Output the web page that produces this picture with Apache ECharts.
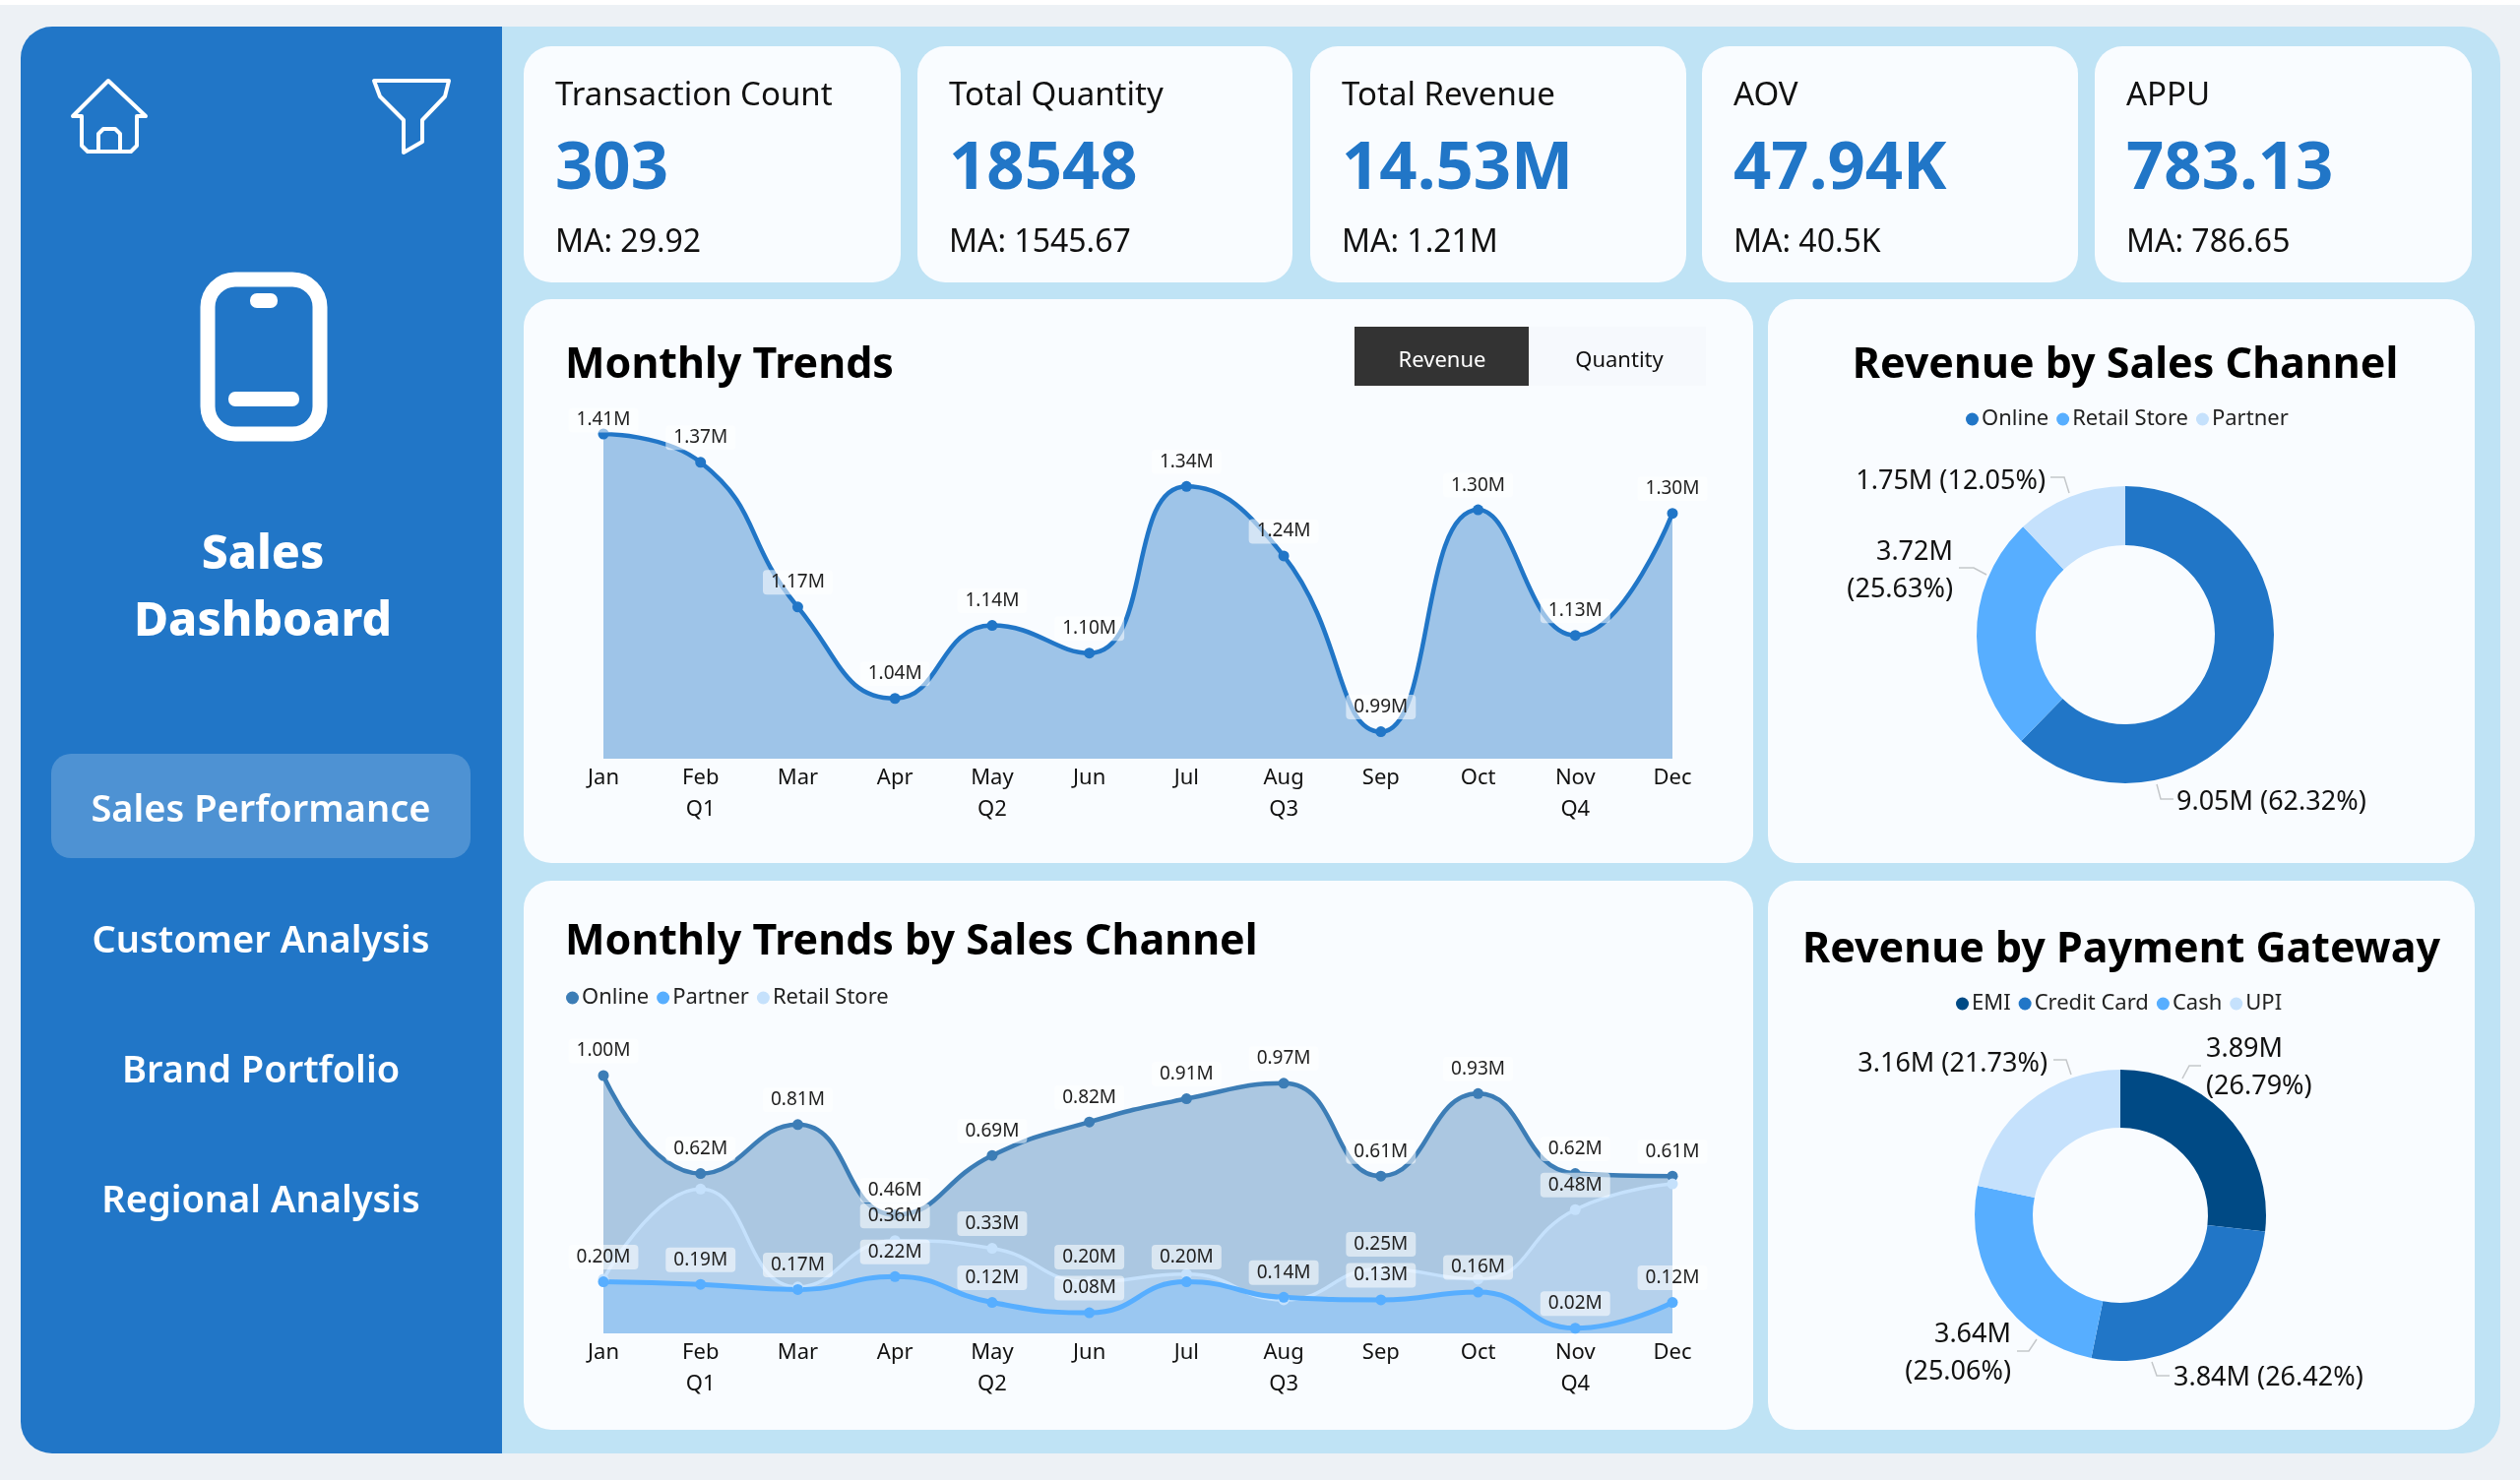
<!DOCTYPE html>
<html>
<head>
<meta charset="utf-8">
<title>Sales Dashboard</title>
<script src="https://cdn.jsdelivr.net/npm/echarts@6/dist/echarts.min.js"></script>
<style>
    html, body { margin: 0; padding: 0; background: #fff; }
    #dashboard { width: 2560px; height: 1504px; }
</style>
</head>
<body>
<div id="dashboard"></div>
<script>
const months = ['Jan', 'Feb', 'Mar', 'Apr', 'May', 'Jun', 'Jul', 'Aug', 'Sep', 'Oct', 'Nov', 'Dec'];
const quarters = ['', 'Q1', '', '', 'Q2', '', '', 'Q3', '', '', 'Q4', ''];

const monthlyRevenue = [1.41, 1.37, 1.166, 1.037, 1.14, 1.101, 1.336, 1.238, 0.99, 1.303, 1.126, 1.298];
const onlineRevenue = [1.00, 0.62, 0.81, 0.46, 0.69, 0.82, 0.91, 0.97, 0.61, 0.93, 0.62, 0.61];
const partnerRevenue = [0.20, 0.19, 0.17, 0.22, 0.12, 0.08, 0.20, 0.14, 0.13, 0.16, 0.02, 0.12];
const retailRevenue = [0.21, 0.56, 0.18, 0.36, 0.33, 0.20, 0.23, 0.13, 0.25, 0.21, 0.48, 0.58];
const retailLabelMonths = ['Apr', 'May', 'Jun', 'Sep', 'Nov'];

const channelNames = ['Online', 'Retail Store', 'Partner'];
const channelValues = [9.05, 3.72, 1.75];
const channelShares = [62.32, 25.63, 12.05];

const gatewayNames = ['EMI', 'Credit Card', 'Cash', 'UPI'];
const gatewayValues = [3.89, 3.84, 3.64, 3.16];
const gatewayShares = [26.79, 26.42, 25.06, 21.73];

const kpiNames = ['Transaction Count', 'Total Quantity', 'Total Revenue', 'AOV', 'APPU'];
const kpiValues = ['303', '18548', '14.53M', '47.94K', '783.13'];
const kpiAverages = ['MA: 29.92', 'MA: 1545.67', 'MA: 1.21M', 'MA: 40.5K', 'MA: 786.65'];

const navItems = ['Sales Performance', 'Customer Analysis', 'Brand Portfolio', 'Regional Analysis'];

const FONT = '"Noto Sans", "Open Sans", sans-serif';
const BLUE = '#2176C7';
const MID_BLUE = '#57AEFF';
const PALE_BLUE = '#C5E1FC';
const DARK_BLUE = '#004A85';
const ONLINE_LINE = '#3C7DB6';
const CARD = '#F9FCFF';

// card and column positions, measured on the 2560 x 1504 page
const kpiCards = [[532, 383], [932, 381], [1331, 382], [1729, 382], [2128, 383]];
const chartCards = [[532, 304, 1249, 573], [1796, 304, 718, 573], [532, 895, 1249, 558], [1796, 895, 718, 558]];
const navY = [824, 957, 1089, 1221];

// where each pie label sits, the library would put them on the slice middle otherwise
const channelSpots = [
    { x: 2211, y: 815, align: 'left', line: [[2191, 797], [2195, 812], [2208, 812]] },
    { x: 1984, y: 580, align: 'right', wrap: true, line: [[2018, 584], [2005, 577], [1990, 577]] },
    { x: 2078, y: 489, align: 'right', line: [[2102, 501], [2097, 485], [2083, 485]] },
];
const gatewaySpots = [
    { x: 2241, y: 1085, align: 'left', wrap: true, line: [[2217, 1096], [2224, 1083], [2236, 1083]] },
    { x: 2208, y: 1400, align: 'left', line: [[2186, 1384], [2191, 1398], [2204, 1398]] },
    { x: 2043, y: 1375, align: 'right', wrap: true, line: [[2069, 1361], [2061, 1373], [2049, 1373]] },
    { x: 2080, y: 1081, align: 'right', line: [[2104, 1092], [2099, 1077], [2086, 1077]] },
];

const chart = echarts.init(document.getElementById('dashboard'));

function text(str, x, y, size, color, weight, align) {
    return {
        type: 'text',
        z: 5,
        style: {
            text: str, x: x, y: y, fill: color,
            font: (weight || 400) + ' ' + size + 'px ' + FONT,
            textAlign: align || 'left', textVerticalAlign: 'middle',
        },
    };
}

function box(x, y, w, h, r, fill) {
    return { type: 'rect', z: 1, shape: { x: x, y: y, width: w, height: h, r: r }, style: { fill: fill } };
}

function stroke(type, points) {
    return {
        type: type, z: 5, shape: { points: points },
        style: { fill: 'none', stroke: '#fff', lineWidth: 4, lineJoin: 'round', lineCap: 'round' },
    };
}

const graphics = [
    box(0, 5, 2560, 1499, 0, '#EDF1F5'),
    box(480, 27, 2060, 1450, [0, 38, 38, 0], '#BFE3F5'),
    box(21, 27, 489, 1450, [32, 0, 0, 32], BLUE),
];

kpiCards.forEach((c, i) => {
    graphics.push(box(c[0], 47, c[1], 240, 28, CARD));
    graphics.push(text(kpiNames[i], c[0] + 32, 98, 33, '#111', 400));
    graphics.push(text(kpiValues[i], c[0] + 32, 173, 67, BLUE, 700));
    graphics.push(text(kpiAverages[i], c[0] + 32, 247, 32, '#111', 400));
});
chartCards.forEach(c => graphics.push(box(c[0], c[1], c[2], c[3], 28, CARD)));

// toggle above the first chart
graphics.push(box(1553, 332, 180, 60, 0, '#F6F9FD'));
graphics.push(box(1376, 332, 177, 60, 0, '#333333'));
graphics.push(text('Revenue', 1465, 367, 22, '#fff', 400, 'center'));
graphics.push(text('Quantity', 1645, 367, 22, '#111', 400, 'center'));

// sidebar
graphics.push(stroke('polyline', [[74, 118], [110, 82], [148, 118], [139, 118], [139, 148], [133, 154], [89, 154], [83, 148], [83, 118], [74, 118]]));
graphics.push(stroke('polyline', [[100, 154], [100, 136], [105, 131], [117, 131], [122, 136], [122, 154]]));
graphics.push(stroke('polygon', [[380, 82], [456, 82], [452, 98], [429, 122], [429, 144], [410, 155], [410, 122], [386, 98]]));
graphics.push({
    type: 'rect', z: 5, shape: { x: 211, y: 284, width: 114, height: 157, r: 28 },
    style: { fill: 'none', stroke: '#fff', lineWidth: 15 },
});
graphics.push({ type: 'rect', z: 5, shape: { x: 254, y: 298, width: 28, height: 15, r: 7 }, style: { fill: '#fff' } });
graphics.push({ type: 'rect', z: 5, shape: { x: 232, y: 398, width: 72, height: 15, r: 7 }, style: { fill: '#fff' } });
graphics.push(text('Sales', 267, 564, 48, '#fff', 800, 'center'));
graphics.push(text('Dashboard', 267, 632, 48, '#fff', 800, 'center'));
graphics.push(box(52, 766, 426, 106, 20, '#4E92D3'));
navItems.forEach((name, i) => graphics.push(text(name, 265, navY[i], 38, '#fff', 600, 'center')));

function cardTitle(str, x, y, align) {
    return {
        text: str, left: x, top: y, textAlign: align, textVerticalAlign: 'middle', z: 6, padding: 0,
        textStyle: { fontFamily: FONT, fontSize: 43, fontWeight: 700, color: '#000' },
    };
}

function circleLegend(names, colors, left, top) {
    return {
        left: left, top: top, padding: 0,
        icon: 'circle', itemWidth: 13, itemHeight: 13, itemGap: 8, itemStyle: { borderWidth: 0 },
        textStyle: { fontFamily: FONT, fontSize: 22, color: '#222', padding: [0, 0, 0, -2] },
        selectedMode: false, z: 6,
        data: names.map((name, i) => ({ name: name, itemStyle: { color: colors[i] } })),
    };
}

function monthAxis(gridIndex) {
    return {
        type: 'category', gridIndex: gridIndex, data: months, boundaryGap: false, z: 4,
        axisLine: { show: false }, axisTick: { show: false }, splitLine: { show: false },
        axisLabel: {
            interval: 0, margin: 4, fontFamily: FONT, fontSize: 22, color: '#111', lineHeight: 32,
            formatter: (value, i) => quarters[i] ? value + '\n' + quarters[i] : value,
        },
    };
}

function lineSeries(name, gridIndex, values, color, lineWidth, symbolSize, areaOpacity, shownLabel) {
    return {
        name: name, type: 'line', xAxisIndex: gridIndex, yAxisIndex: gridIndex, z: 3,
        smooth: 0.5, clip: false, symbol: 'circle', symbolSize: symbolSize, showSymbol: true, showAllSymbol: true,
        lineStyle: { color: color, width: lineWidth },
        itemStyle: { color: color },
        areaStyle: { color: color, opacity: areaOpacity },
        label: {
            show: true, position: 'top', distance: 7, fontFamily: FONT, fontSize: 19, color: '#222',
            backgroundColor: 'rgba(255,255,255,0.55)', borderRadius: 4, padding: [3, 8],
            formatter: p => (typeof p.value === 'number' ? p.value : p.value).toFixed(2) + 'M',
        },
        data: values.map((v, i) => shownLabel ? { value: v, label: shownLabel(i) } : v),
    };
}

function pieSeries(names, values, shares, colors, spots, center, radius) {
    return {
        type: 'pie', center: center, radius: radius, startAngle: 90, clockwise: true, z: 4,
        avoidLabelOverlap: false,
        data: names.map((name, i) => ({ name: name, value: values[i], itemStyle: { color: colors[i] } })),
        label: {
            show: true, position: 'outside', fontFamily: FONT, fontSize: 27, color: '#111', lineHeight: 38,
            formatter: p => {
                const head = values[p.dataIndex].toFixed(2) + 'M';
                const tail = '(' + shares[p.dataIndex].toFixed(2) + '%)';
                return head + (spots[p.dataIndex].wrap ? '\n' : ' ') + tail;
            },
        },
        labelLine: { show: true, lineStyle: { color: '#C4C7CA', width: 1.5 } },
        labelLayout: p => {
            const spot = spots[p.dataIndex];
            return { x: spot.x, y: spot.y, align: spot.align, verticalAlign: 'middle', labelLinePoints: spot.line };
        },
    };
}

const option = {
    animation: false,
    backgroundColor: '#fff',
    graphic: { elements: graphics },
    title: [
        cardTitle('Monthly Trends', 574, 372, 'left'),
        cardTitle('Revenue by Sales Channel', 2159, 372, 'center'),
        cardTitle('Monthly Trends by Sales Channel', 574, 958, 'left'),
        cardTitle('Revenue by Payment Gateway', 2155, 966, 'center'),
    ],
    legend: [
        circleLegend(channelNames, [BLUE, MID_BLUE, PALE_BLUE], 1997, 415),
        circleLegend(['Online', 'Partner', 'Retail Store'], [ONLINE_LINE, MID_BLUE, PALE_BLUE], 575, 1003),
        circleLegend(gatewayNames, [DARK_BLUE, BLUE, MID_BLUE, PALE_BLUE], 1987, 1009),
    ],
    grid: [
        { left: 613, top: 441, width: 1086, height: 330 },
        { left: 613, top: 1093, width: 1086, height: 262 },
    ],
    xAxis: [monthAxis(0), monthAxis(1)],
    yAxis: [
        { type: 'value', gridIndex: 0, min: 0.952, max: 1.41, show: false },
        { type: 'value', gridIndex: 1, min: 0, max: 1, show: false },
    ],
    series: [
        lineSeries('Revenue', 0, monthlyRevenue, BLUE, 4.5, 11, 0.42, i => i === 0 ? { offset: [0, 11] } : {}),
        lineSeries('Online', 1, onlineRevenue, ONLINE_LINE, 4.5, 11, 0.41),
        lineSeries('Retail Store', 1, retailRevenue, PALE_BLUE, 3.5, 11, 0.4,
            i => ({ show: retailLabelMonths.includes(months[i]) })),
        lineSeries('Partner', 1, partnerRevenue, MID_BLUE, 5, 11, 0.28),
        pieSeries(channelNames, channelValues, channelShares, [BLUE, MID_BLUE, PALE_BLUE], channelSpots, [2159, 645], [91, 151]),
        pieSeries(gatewayNames, gatewayValues, gatewayShares, [DARK_BLUE, BLUE, MID_BLUE, PALE_BLUE], gatewaySpots, [2154, 1235], [89, 148]),
    ],
};

chart.setOption(option);
</script>
</body>
</html>
